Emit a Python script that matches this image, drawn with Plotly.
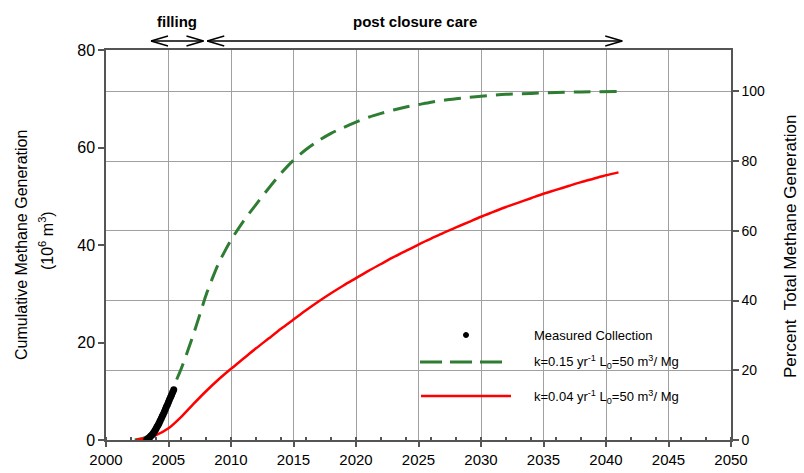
import plotly.graph_objects as go

# ---------------- data ----------------
years_fast = [2002.3, 2003.0, 2003.5, 2004.0, 2004.5, 2005.0, 2005.5, 2006.0, 2006.5,
              2007.0, 2007.5, 2008.0, 2008.5, 2009.0, 2009.5, 2010, 2011, 2012, 2013,
              2014, 2015, 2016, 2017, 2018, 2019, 2020, 2021, 2022, 2023, 2024, 2025,
              2026, 2027, 2028, 2029, 2030, 2032, 2034, 2036, 2038, 2041]
gen_fast = [0.0, 0.4, 1.1, 2.8, 5.4, 8.6, 11.5, 14.5, 18.0,
            21.7, 25.7, 29.7, 33.1, 36.2, 38.7, 41.0, 44.9, 48.3, 51.6,
            54.7, 57.4, 59.6, 61.4, 62.9, 64.1, 65.2, 66.2, 67.0, 67.7, 68.3, 68.8,
            69.3, 69.7, 70.0, 70.3, 70.5, 70.9, 71.1, 71.3, 71.4, 71.5]

years_slow = [2002.4, 2003, 2004, 2005, 2006, 2007, 2008, 2009, 2010, 2011, 2012, 2013,
              2014, 2015, 2016, 2017, 2018, 2019, 2020, 2021, 2022, 2023, 2024, 2025,
              2026, 2027, 2028, 2029, 2030, 2031, 2032, 2033, 2034, 2035, 2036, 2037,
              2038, 2039, 2040, 2041]
gen_slow = [0.0, 0.3, 1.0, 2.4, 4.7, 7.4, 10.0, 12.4, 14.6, 16.7, 18.8, 20.8,
            22.8, 24.7, 26.6, 28.4, 30.1, 31.7, 33.2, 34.7, 36.1, 37.5, 38.8, 40.1,
            41.3, 42.5, 43.6, 44.7, 45.8, 46.8, 47.8, 48.7, 49.6, 50.5, 51.3, 52.1,
            52.9, 53.6, 54.3, 54.9]

meas_years = [2003.25, 2003.33, 2003.42, 2003.50, 2003.58, 2003.67, 2003.75, 2003.83,
              2003.92, 2004.00, 2004.08, 2004.17, 2004.25, 2004.33, 2004.42, 2004.50,
              2004.58, 2004.67, 2004.75, 2004.83, 2004.92, 2005.00, 2005.08, 2005.17,
              2005.25, 2005.33, 2005.42]
meas_vals = [0.0, 0.15, 0.35, 0.55, 0.8, 1.05, 1.3, 1.6,
             1.95, 2.3, 2.7, 3.1, 3.5, 3.95, 4.4, 4.85,
             5.3, 5.8, 6.3, 6.8, 7.3, 7.8, 8.3, 8.8,
             9.3, 9.8, 10.3]

total_generation = 71.5          # left-axis value equal to 100 %
x_ticks = list(range(2000, 2051, 5))
left_ticks = [0, 20, 40, 60, 80]
pct_ticks = [0, 20, 40, 60, 80, 100]

phases = ["filling", "post closure care"]
phase_start = [2003.6, 2008.1]
phase_end = [2007.8, 2041.3]

legend_labels = ["Measured Collection",
                 "k=0.15 yr<sup>-1</sup> L<sub>0</sub>=50 m<sup>3</sup>/ Mg",
                 "k=0.04 yr<sup>-1</sup> L<sub>0</sub>=50 m<sup>3</sup>/ Mg"]

# ---------------- styling ----------------
FONT = "Liberation Sans, Arial, Helvetica, sans-serif"
GREEN = "rgb(46,125,50)"
RED = "rgb(255,0,0)"
GRID = "#a0a0a0"
AXIS = "#555555"

L, R, T, B = 106, 73, 50, 33
W, H = 804, 473
PW, PH = W - L - R, H - T - B


def px_x(px):
    return (px - L) / PW


def px_y(py):
    return (H - B - py) / PH


fig = go.Figure()

fig.add_trace(go.Scatter(x=years_fast, y=gen_fast, mode="lines",
                         line=dict(color=GREEN, width=3, dash="17px,9px",
                                   shape="spline", smoothing=0.8),
                         name=legend_labels[1], yaxis="y"))
fig.add_trace(go.Scatter(x=years_slow, y=gen_slow, mode="lines",
                         line=dict(color=RED, width=2.5, shape="spline", smoothing=0.8),
                         name=legend_labels[2], yaxis="y"))
fig.add_trace(go.Scatter(x=meas_years, y=meas_vals, mode="markers",
                         marker=dict(color="black", size=7),
                         name=legend_labels[0], yaxis="y"))
# invisible trace to activate the right axis
fig.add_trace(go.Scatter(x=[x_ticks[0]], y=[0], yaxis="y2", mode="markers",
                         marker=dict(opacity=0), showlegend=False, hoverinfo="skip"))

fig.update_layout(
    width=W, height=H,
    margin=dict(l=L, r=R, t=T, b=B, autoexpand=False),
    plot_bgcolor="white", paper_bgcolor="white",
    showlegend=False,
    font=dict(family=FONT, color="black"),
    xaxis=dict(range=[2000, 2050], tickvals=x_ticks, ticks="outside", ticklen=5,
               tickcolor=AXIS, tickwidth=1.5, automargin=False,
               showline=True, linecolor=AXIS, linewidth=1.5, mirror=True,
               showgrid=True, gridcolor=GRID, gridwidth=1, zeroline=False,
               tickfont=dict(size=15),
               minor=dict(tick0=2000, dtick=2, ticks="inside", ticklen=3,
                          tickcolor=AXIS, showgrid=False)),
    yaxis=dict(range=[0, 80], tickvals=left_ticks, ticks="outside", ticklen=6,
               tickcolor=AXIS, tickwidth=1.5, automargin=False,
               showline=True, linecolor=AXIS, linewidth=1.5,
               showgrid=False, zeroline=False, tickfont=dict(size=16)),
    yaxis2=dict(range=[0, 80 / total_generation * 100], tickvals=pct_ticks,
                overlaying="y", side="right", ticks="outside", ticklen=6,
                tickcolor=AXIS, tickwidth=1.5, automargin=False,
                showline=True, linecolor=AXIS, linewidth=1.5,
                showgrid=True, gridcolor=GRID, gridwidth=1.2, zeroline=False,
                tickfont=dict(size=14)),
)

annotations = []
shapes = []

# axis titles
annotations.append(dict(text="Cumulative Methane Generation", textangle=-90,
                        xref="paper", yref="paper", x=px_x(21), y=px_y(245),
                        showarrow=False, font=dict(size=16),
                        xanchor="center", yanchor="middle"))
annotations.append(dict(text="(10<sup>6</sup> m<sup>3</sup>)", textangle=-90,
                        xref="paper", yref="paper", x=px_x(46), y=px_y(241),
                        showarrow=False, font=dict(size=16),
                        xanchor="center", yanchor="middle"))
annotations.append(dict(text="Percent  Total Methane Generation", textangle=-90,
                        xref="paper", yref="paper", x=px_x(790), y=px_y(247),
                        showarrow=False, font=dict(size=17),
                        xanchor="center", yanchor="middle"))

# phase arrows
arrow_y = px_y(41)
text_y = px_y(21)
for name, s, e in zip(phases, phase_start, phase_end):
    shapes.append(dict(type="line", xref="x", yref="paper", x0=s, x1=e,
                       y0=arrow_y, y1=arrow_y, line=dict(color="black", width=1.5)))
    for anchor, sign in ((s, 1), (e, -1)):
        for dy in (5, -5):
            shapes.append(dict(type="line", xref="x", yref="paper",
                               xsizemode="pixel", ysizemode="pixel",
                               xanchor=anchor, yanchor=arrow_y,
                               x0=0, x1=sign * 17, y0=0, y1=dy,
                               line=dict(color="black", width=1.5)))
    annotations.append(dict(text="<b>%s</b>" % name, xref="x", yref="paper",
                            x=(s + e) / 2, y=text_y, showarrow=False,
                            font=dict(size=15), xanchor="center", yanchor="middle"))

# legend (drawn)
shapes.append(dict(type="circle", xref="paper", yref="paper",
                   xsizemode="pixel", ysizemode="pixel",
                   xanchor=px_x(466), yanchor=px_y(335),
                   x0=-2.5, x1=2.5, y0=-2.5, y1=2.5,
                   fillcolor="black", line=dict(color="black", width=1)))
shapes.append(dict(type="line", xref="paper", yref="paper",
                   x0=px_x(420), x1=px_x(503), y0=px_y(362), y1=px_y(362),
                   line=dict(color=GREEN, width=3, dash="22px,8px")))
shapes.append(dict(type="line", xref="paper", yref="paper",
                   x0=px_x(421), x1=px_x(511), y0=px_y(396), y1=px_y(396),
                   line=dict(color=RED, width=2.5)))
for lab, py in zip(legend_labels, (335, 362, 397)):
    annotations.append(dict(text=lab, xref="paper", yref="paper",
                            x=px_x(532), y=px_y(py), showarrow=False,
                            font=dict(size=13), xanchor="left", yanchor="middle"))

fig.update_layout(annotations=annotations, shapes=shapes)

fig.write_html("out.html")
